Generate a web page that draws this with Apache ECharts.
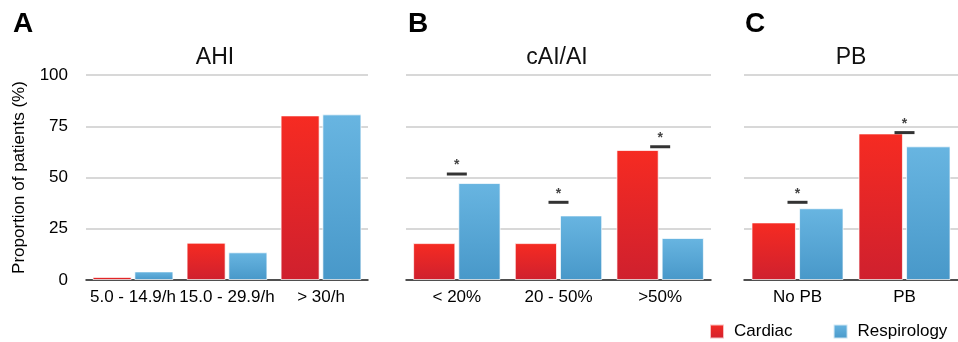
<!DOCTYPE html>
<html>
<head>
<meta charset="utf-8">
<script src="https://cdn.jsdelivr.net/npm/echarts@6/dist/echarts.min.js"></script>
<style>html,body{margin:0;padding:0;background:#fff}#c{width:958px;height:342px}</style>
</head>
<body>
<div id="c"></div>
<script>
// ---- data ----
var catA = ['5.0 - 14.9/h', '15.0 - 29.9/h', '> 30/h'];
var cardA = [1.5, 18.2, 80.3];
var respA = [4.2, 13.5, 80.8];

var catB = ['< 20%', '20 - 50%', '>50%'];
var cardB = [18, 18, 63.4];
var respB = [47.3, 31.5, 20.5];
var sigB = [51.7, 37.9, 65.0];

var catC = ['No PB', 'PB'];
var cardC = [28.1, 71.5];
var respC = [35, 65.2];
var sigC = [37.9, 71.9];

var yTicks = [0, 25, 50, 75, 100];
var panelTitles = ['AHI', 'cAI/AI', 'PB'];
var panelLetters = ['A', 'B', 'C'];
var seriesNames = ['Cardiac', 'Respirology'];

// ---- styles ----
var FONT = '"Liberation Sans", Arial, Helvetica, sans-serif';
var redGrad = {type:'linear', x:0, y:0, x2:0, y2:1, colorStops:[{offset:0,color:'#f62b22'},{offset:1,color:'#cf202e'}]};
var blueGrad = {type:'linear', x:0, y:0, x2:0, y2:1, colorStops:[{offset:0,color:'#68b5e1'},{offset:1,color:'#4898c9'}]};

var grids = [
  {left: 86, width: 282, top: 75, height: 205},
  {left: 406, width: 305, top: 75, height: 205},
  {left: 744, width: 224, top: 75, height: 205}
];
var cats = [catA, catB, catC];
var cards = [cardA, cardB, cardC];
var resps = [respA, respB, respC];
var sigs = [null, sigB, sigC];

var xAxes = [], yAxes = [], series = [];
for (var i = 0; i < 3; i++) {
  xAxes.push({
    type: 'category', gridIndex: i, data: cats[i],
    axisLine: {show: true, lineStyle: {color: '#222', width: 1.5}},
    axisTick: {show: false},
    axisLabel: {color: '#000', fontSize: 17, fontFamily: FONT, margin: 9, interval: 0}
  });
  yAxes.push({
    type: 'value', gridIndex: i, min: yTicks[0], max: yTicks[yTicks.length-1], interval: 25,
    axisLine: {show: false}, axisTick: {show: false},
    axisLabel: {show: i === 0, color: '#000', fontSize: 17, fontFamily: FONT, margin: 18},
    splitLine: {show: true, lineStyle: {color: '#cbcbcb', width: 1.5}},
    name: i === 0 ? 'Proportion of patients (%)' : '',
    nameLocation: 'middle', nameGap: 58, nameRotate: 90,
    nameTextStyle: {color: '#000', fontSize: 17, fontFamily: FONT}
  });
  series.push({
    name: seriesNames[0], type: 'bar', xAxisIndex: i, yAxisIndex: i, data: cards[i],
    barGap: '7%', barCategoryGap: '14%',
    itemStyle: {color: redGrad, borderColor: 'rgba(255,255,255,0.7)', borderWidth: 1}
  });
  series.push({
    name: seriesNames[1], type: 'bar', xAxisIndex: i, yAxisIndex: i, data: resps[i],
    barGap: '7%', barCategoryGap: '14%',
    itemStyle: {color: blueGrad, borderColor: 'rgba(255,255,255,0.7)', borderWidth: 1}
  });
  if (sigs[i]) {
    series.push({
      type: 'scatter', xAxisIndex: i, yAxisIndex: i, data: sigs[i],
      symbol: 'rect', symbolSize: [20, 3], z: 5,
      itemStyle: {color: '#000'},
      label: {show: true, formatter: '*', position: 'top', distance: 0, color: '#111', fontSize: 14, fontFamily: FONT, fontWeight: 'bold'},
      silent: true
    });
  }
}

var titles = [];
var letterX = [13, 408, 745];
var titleX = [215, 557, 851];
for (var j = 0; j < 3; j++) {
  titles.push({text: panelLetters[j], left: letterX[j], top: 10, padding: 0,
    textStyle: {fontSize: 28, fontWeight: 'bold', color: '#000', fontFamily: FONT}});
  titles.push({text: panelTitles[j], left: titleX[j], top: 46, padding: 0, textAlign: 'center',
    textStyle: {fontSize: 23, fontWeight: 'normal', color: '#111', fontFamily: FONT}});
}

var chart = echarts.init(document.getElementById('c'));
chart.setOption({
  animation: false,
  backgroundColor: '#fff',
  title: titles,
  grid: grids,
  xAxis: xAxes,
  yAxis: yAxes,
  legend: {
    data: seriesNames, left: 709, top: 323, padding: 0,
    icon: 'rect', itemWidth: 14, itemHeight: 14, itemGap: 40,
    textStyle: {fontSize: 17, color: '#000', fontFamily: FONT, padding: [0, 0, 0, 5]}
  },
  series: series
});
</script>
</body>
</html>
